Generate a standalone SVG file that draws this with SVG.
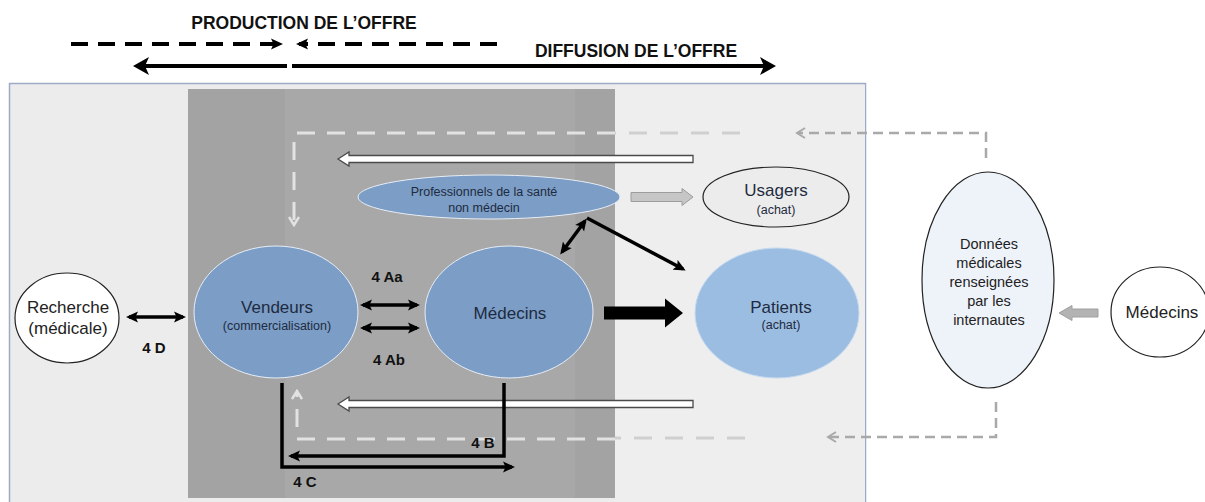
<svg xmlns="http://www.w3.org/2000/svg" width="1205" height="502" viewBox="0 0 1205 502">
<style>
text{font-family:"Liberation Sans",Arial,sans-serif;text-anchor:middle}
.hdr{font-size:17.5px;font-weight:bold;fill:#111}
.lbl{font-size:15px;font-weight:bold;fill:#111}
.big{font-size:17px;fill:#1e2b40}
.sm{font-size:12.5px;fill:#1e2b40}
.blk{font-size:17px;fill:#222}
.don{font-size:14.5px;fill:#222}
.blue{fill:#7b9dc6;stroke:#e6edf6;stroke-width:1}
.wnode{fill:#ffffff;stroke:#222;stroke-width:1.2}
.conn{stroke:#000;stroke-width:3.5;fill:none}
.wd{stroke:#e2e2e2;stroke-width:3;fill:none;stroke-dasharray:18 12}
.ld{stroke:#cfcfcf;stroke-width:3;fill:none;stroke-dasharray:18 13}
.gd{stroke:#a9a9a9;stroke-width:2.5;fill:none;stroke-dasharray:10 6}
</style>
<defs>
<marker id="ah" viewBox="0 0 12 12" refX="9" refY="6" markerWidth="12" markerHeight="12" markerUnits="userSpaceOnUse" orient="auto-start-reverse"><path d="M0,0.5 L12,6 L0,11.5 L2.5,6 Z" fill="#000"/></marker>
<marker id="hh" viewBox="0 0 16 18" refX="12" refY="9" markerWidth="16" markerHeight="18" markerUnits="userSpaceOnUse" orient="auto-start-reverse"><path d="M0,0 L16,9 L0,18 L4,9 Z" fill="#000"/></marker>
<marker id="wch" viewBox="0 0 12 12" refX="9" refY="6" markerWidth="12" markerHeight="12" markerUnits="userSpaceOnUse" orient="auto"><path d="M2,1 L10,6 L2,11" fill="none" stroke="#e2e2e2" stroke-width="2.5"/></marker>
<marker id="gch" viewBox="0 0 12 12" refX="9" refY="6" markerWidth="12" markerHeight="12" markerUnits="userSpaceOnUse" orient="auto"><path d="M2,1 L10,6 L2,11" fill="none" stroke="#a9a9a9" stroke-width="2"/></marker>
<path id="hollow" d="M0,0 L11,-7 L11,-3.5 L355,-3.5 L355,3.5 L11,3.5 L11,7 Z" fill="#fff" stroke="#4a4a4a" stroke-width="1.3"/>
</defs>

<!-- background panels -->
<g id="background">
<rect x="9.5" y="83.5" width="856" height="430" fill="#ececec" stroke="#9eabc6" stroke-width="1.5"/>
<rect x="615" y="85" width="250" height="417" fill="#eeeeee"/>
<rect x="188" y="89" width="427" height="409" fill="#a3a3a3"/>
<rect x="285" y="89" width="290" height="409" fill="#a8a8a8"/>
</g>

<!-- header -->
<g id="header">
<text class="hdr" x="304" y="29">PRODUCTION DE L’OFFRE</text>
<text class="hdr" x="636" y="57">DIFFUSION DE L’OFFRE</text>
<line x1="71" y1="44" x2="280" y2="44" stroke="#000" stroke-width="4" stroke-dasharray="17 10" marker-end="url(#ah)"/>
<line x1="497" y1="44" x2="299" y2="44" stroke="#000" stroke-width="4" stroke-dasharray="17 10" marker-end="url(#ah)"/>
<line x1="137" y1="66" x2="287" y2="66" stroke="#000" stroke-width="4" marker-start="url(#hh)"/>
<line x1="292" y1="66" x2="772" y2="66" stroke="#000" stroke-width="4" marker-end="url(#hh)"/>
</g>

<!-- connectors -->
<g id="connectors">
<path class="gd" d="M986,158 L986,133 L798,133" marker-end="url(#gch)"/>
<path class="ld" d="M740,133 L615,133"/>
<path class="wd" d="M615,133 L294,133 L294,224" marker-end="url(#wch)"/>
<path class="gd" d="M996,402 L996,437 L829,437" marker-end="url(#gch)"/>
<path class="ld" d="M745,438 L615,438"/>
<path class="wd" d="M615,439 L297,439 L297,392" marker-end="url(#wch)"/>
<use href="#hollow" x="338" y="159"/>
<use href="#hollow" x="338" y="404"/>
<path d="M631,192.5 L682,192.5 L682,188.5 L693,197 L682,205.5 L682,201.5 L631,201.5 Z" fill="#c6c6c6" stroke="#9c9c9c" stroke-width="1"/>
<path d="M1098,309 L1072,309 L1072,305.5 L1059,313 L1072,320.5 L1072,317 L1098,317 Z" fill="#b3b3b3" stroke="#a0a0a0" stroke-width="1"/>
<path d="M604,306.5 L665,306.5 L665,298.5 L683,313 L665,327.5 L665,319.5 L604,319.5 Z" fill="#000"/>
<line class="conn" x1="129" y1="317" x2="183" y2="317" marker-start="url(#ah)" marker-end="url(#ah)"/>
<line class="conn" x1="363" y1="305" x2="417" y2="305" marker-start="url(#ah)" marker-end="url(#ah)"/>
<line class="conn" x1="363" y1="328" x2="417" y2="328" marker-start="url(#ah)" marker-end="url(#ah)"/>
<line class="conn" stroke-width="3" x1="585" y1="221" x2="562" y2="252" marker-start="url(#ah)" marker-end="url(#ah)"/>
<line class="conn" stroke-width="3" x1="587" y1="218" x2="683" y2="269" marker-end="url(#ah)"/>
<path class="conn" d="M282,383 L282,467 L512,467" marker-end="url(#ah)"/>
<path class="conn" d="M504,383 L504,456 L291,456" marker-end="url(#ah)"/>
<text class="lbl" x="154" y="353">4 D</text>
<text class="lbl" x="387" y="282">4 Aa</text>
<text class="lbl" x="389" y="365">4 Ab</text>
<text class="lbl" x="483" y="448">4 B</text>
<text class="lbl" x="305" y="487">4 C</text>
</g>

<!-- nodes -->
<g id="recherche">
<ellipse class="wnode" cx="67" cy="318" rx="52" ry="45"/>
<text class="blk" x="68" y="313">Recherche</text>
<text class="blk" x="68" y="334">(médicale)</text>
</g>
<g id="professionnels">
<ellipse class="blue" cx="489" cy="197" rx="131" ry="22" fill="#7ba2cf"/>
<text class="sm" x="484" y="196">Professionnels de la santé</text>
<text class="sm" x="484" y="212">non médecin</text>
</g>
<g id="usagers">
<ellipse cx="776" cy="197" rx="73" ry="30" fill="#ececec" stroke="#222" stroke-width="1.2"/>
<text class="big" x="776" y="196">Usagers</text>
<text class="sm" x="776" y="214">(achat)</text>
</g>
<g id="vendeurs">
<ellipse class="blue" cx="276" cy="312" rx="82" ry="66"/>
<text class="big" x="277" y="313">Vendeurs</text>
<text class="sm" x="277" y="330">(commercialisation)</text>
</g>
<g id="medecins">
<ellipse class="blue" cx="509" cy="312" rx="84" ry="66"/>
<text class="big" x="510" y="319">Médecins</text>
</g>
<g id="patients">
<ellipse cx="777" cy="313" rx="82" ry="65" fill="#9cbde2" stroke="#c6daf0" stroke-width="1"/>
<text class="big" x="781" y="313">Patients</text>
<text class="sm" x="781" y="329">(achat)</text>
</g>
<g id="donnees">
<ellipse cx="988" cy="280" rx="66" ry="108" fill="#eef3fa" stroke="#222" stroke-width="1.2"/>
<text class="don" x="989" y="249">Données</text>
<text class="don" x="989" y="268">médicales</text>
<text class="don" x="989" y="287">renseignées</text>
<text class="don" x="989" y="306">par les</text>
<text class="don" x="989" y="325">internautes</text>
</g>
<g id="medecins-ext">
<ellipse class="wnode" cx="1160" cy="312" rx="49" ry="45"/>
<text class="blk" x="1162" y="318">Médecins</text>
</g>
</svg>
